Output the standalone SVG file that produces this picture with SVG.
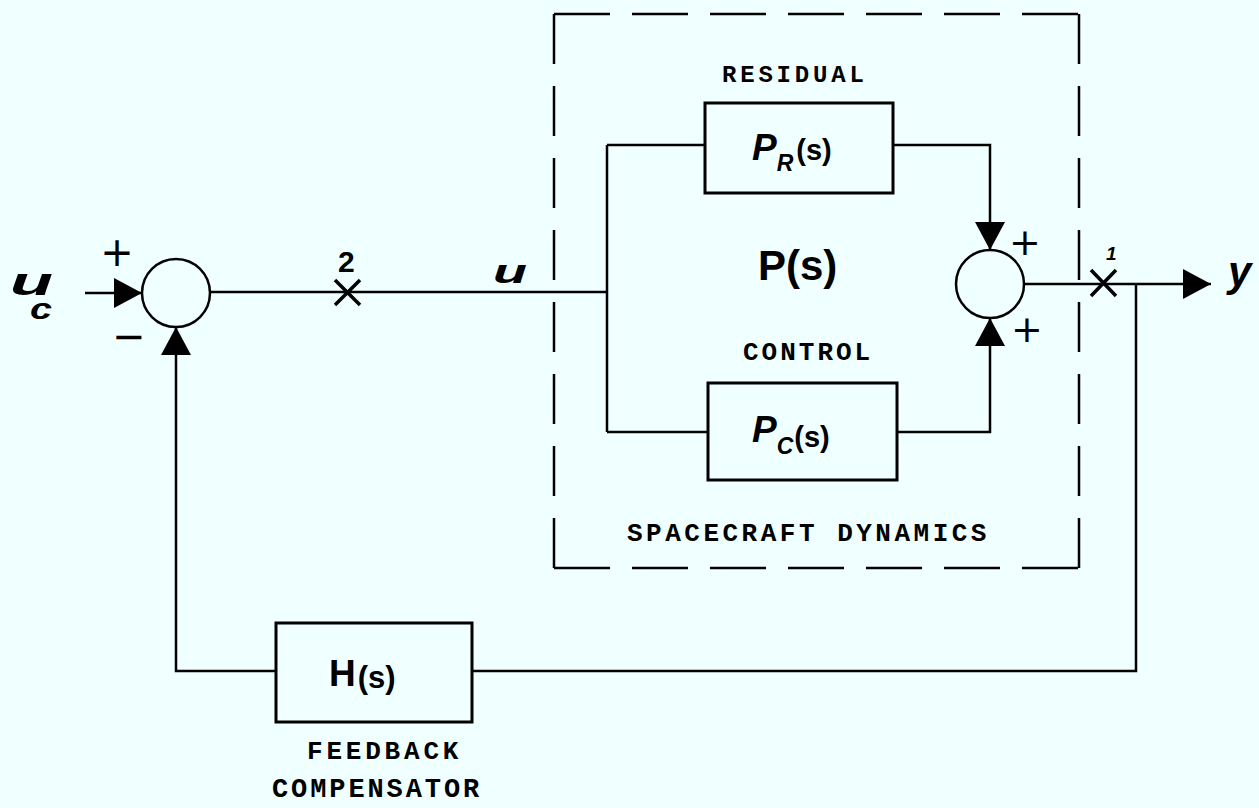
<svg xmlns="http://www.w3.org/2000/svg" width="1259" height="808" viewBox="0 0 1259 808">
<defs>
<marker id="arr" markerUnits="userSpaceOnUse" markerWidth="30" markerHeight="32" refX="28" refY="16" orient="auto">
<path d="M0,1 L28,16 L0,31 z" fill="#000"/>
</marker>
<style>
.ln{fill:none;stroke:#000;stroke-width:2.5}
.x{fill:none;stroke:#000;stroke-width:3.5}
.box{fill:none;stroke:#000;stroke-width:3}
.dash{fill:none;stroke:#000;stroke-width:2.5}
.mono{font-family:"Liberation Mono",monospace;font-weight:bold;fill:#000}
.math{font-family:"Liberation Sans",sans-serif;font-weight:bold;fill:#000}
.sign{font-family:"DejaVu Sans",sans-serif;fill:#000;text-anchor:middle}
</style>
</defs>
<rect width="1259" height="808" fill="#F0FFFF"/>

<g id="plant-boundary">
<path class="dash" d="M554,14 H1079" stroke-dasharray="56 22"/>
<path class="dash" d="M554,568 H1079" stroke-dasharray="56 22"/>
<path class="dash" d="M554,14 V568" stroke-dasharray="50 22"/>
<path class="dash" d="M1079,14 V568" stroke-dasharray="50 22"/>
<text class="mono" x="627" y="541" font-size="26" letter-spacing="3.5">SPACECRAFT DYNAMICS</text>
<text class="math" x="758" y="280" font-size="42">P(s)</text>
</g>

<g id="sum1">
<circle cx="176" cy="293" r="34" class="ln"/>
<text class="sign" x="117" y="266" font-size="40">+</text>
<text class="sign" x="129" y="350" font-size="40">−</text>
</g>

<g id="sum2">
<circle cx="990" cy="284" r="34" class="ln"/>
<text class="sign" x="1025" y="255" font-size="38">+</text>
<text class="sign" x="1027" y="342" font-size="38">+</text>
</g>

<g id="PR">
<rect x="705" y="103" width="188" height="90" class="box"/>
<text class="math" x="752" y="160"><tspan font-size="37" font-style="italic">P</tspan><tspan font-size="23" font-style="italic" dx="0" dy="11">R</tspan><tspan font-size="29" dx="3" dy="-11">(s)</tspan></text>
<text class="mono" x="722" y="82" font-size="24" letter-spacing="3.8">RESIDUAL</text>
</g>

<g id="PC">
<rect x="708" y="383" width="189" height="97" class="box"/>
<text class="math" x="752" y="442"><tspan font-size="37" font-style="italic">P</tspan><tspan font-size="23" font-style="italic" dx="0" dy="12">C</tspan><tspan font-size="29" dx="1" dy="-7">(s)</tspan></text>
<text class="mono" x="743" y="360" font-size="26" letter-spacing="3">CONTROL</text>
</g>

<g id="H">
<rect x="276" y="623" width="196" height="99" class="box"/>
<text class="math" x="329" y="686"><tspan font-size="37">H</tspan><tspan font-size="31" dx="2" dy="2">(s)</tspan></text>
<text class="mono" x="307" y="759" font-size="26" letter-spacing="3.8">FEEDBACK</text>
<text class="mono" x="272" y="797" font-size="27" letter-spacing="2.9">COMPENSATOR</text>
</g>

<g id="input-label">
<text class="math" x="10" y="295" font-size="38" font-style="italic" textLength="43" lengthAdjust="spacingAndGlyphs">u</text>
<text class="math" x="30" y="319" font-size="30" font-style="italic" textLength="22" lengthAdjust="spacingAndGlyphs">c</text>
</g>

<g id="output-label">
<text class="math" x="1228" y="286" font-size="42" font-style="italic">y</text>
</g>

<g id="connectors">
<path class="ln" d="M85,293 H142" marker-end="url(#arr)"/>
<path class="ln" d="M210,292 H607"/>
<path class="ln" d="M607,145 V432"/>
<path class="ln" d="M607,145 H705"/>
<path class="ln" d="M607,432 H708"/>
<path class="ln" d="M893,145 H990 V250" marker-end="url(#arr)"/>
<path class="ln" d="M897,432 H990 V318" marker-end="url(#arr)"/>
<path class="ln" d="M1024,284 H1211" marker-end="url(#arr)"/>
<path class="ln" d="M1136,284 V671 H472"/>
<path class="ln" d="M276,671 H176 V327" marker-end="url(#arr)"/>
<path class="x" d="M335,280 L360,305 M360,280 L335,305"/>
<path class="x" d="M1091,270 L1116,296 M1116,270 L1091,296"/>
<text class="math" x="338" y="272" font-size="30">2</text>
<text class="math" x="1106" y="260" font-size="19" font-style="italic">1</text>
<text class="math" x="493" y="283" font-size="34" font-style="italic" textLength="34" lengthAdjust="spacingAndGlyphs">u</text>
</g>
</svg>
